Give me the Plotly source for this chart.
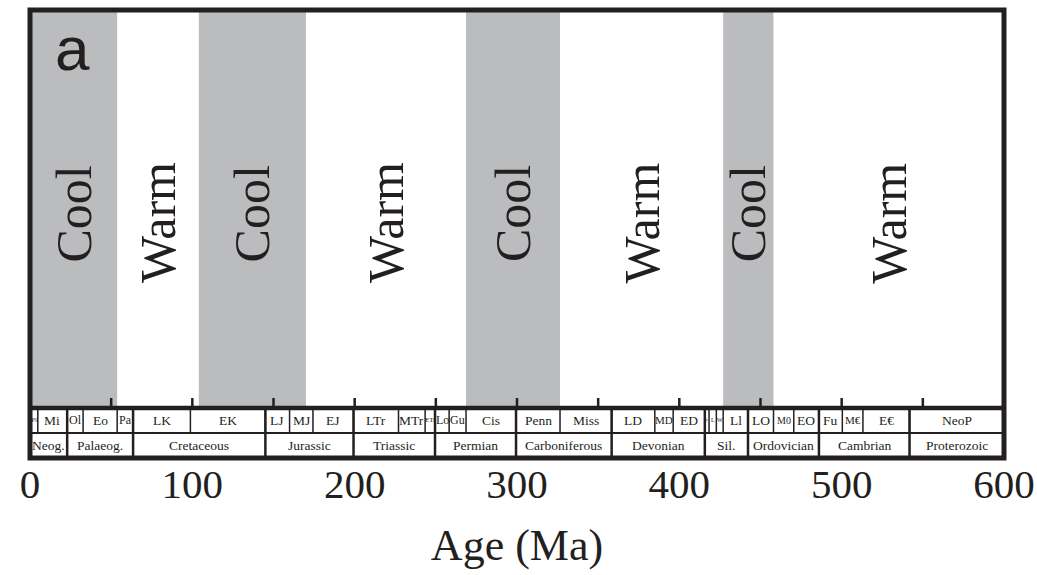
import plotly.graph_objects as go

# ---------------- data ----------------
climate_names = ["Cool", "Warm", "Cool", "Warm", "Cool", "Warm", "Cool", "Warm"]
climate_edges = [0, 53.7, 104, 170, 268.6, 326.5, 427, 458, 600]

stage_names = ["Pl", "Mi", "Ol", "Eo", "Pa", "LK", "EK", "LJ", "MJ", "EJ", "LTr", "MTr", "ETr",
               "Lo", "Gu", "Cis", "Penn", "Miss", "LD", "MD", "ED", "P", "L", "W", "Ll",
               "LO", "M0", "EO", "Fu", "M€", "E€", "NeoP"]
stage_edges = [0, 4.8, 22.9, 32.7, 53.7, 63.5, 98.8, 145, 159.9, 174.3, 199.3, 227, 243.4,
               249.5, 258.2, 268.6, 299.4, 326.5, 358.3, 384.9, 396.2, 415.7, 418.3, 422.8,
               427, 442.3, 458, 470.5, 486, 500.4, 513.1, 541.8, 600]

period_names = ["Neog.", "Palaeog.", "Cretaceous", "Jurassic", "Triassic", "Permian",
                "Carboniferous", "Devonian", "Sil.", "Ordovician", "Cambrian", "Proterozoic"]
period_edges = [0, 22.9, 63.5, 145, 199.3, 249.5, 299.4, 358.3, 415.7, 442.3, 486, 541.8, 600]

minor_ticks = [50, 100, 150, 200, 250, 300, 350, 400, 450, 500, 550]
x_tick_vals = [0, 100, 200, 300, 400, 500, 600]

# ---------------- style ----------------
BLACK = "#231f20"
GREY = "#bbbcbe"
SERIF = "Liberation Serif, DejaVu Serif, serif"
YTOP = 448          # y units ~ pixels from plot bottom
TS_TOP = 50         # top of timescale
TS_MID = 25         # divider between the two rows

fig = go.Figure()
shapes = []
annotations = []

# climate bands
for i, name in enumerate(climate_names):
    x0, x1 = climate_edges[i], climate_edges[i + 1]
    if name == "Cool":
        shapes.append(dict(type="rect", xref="x", yref="y", x0=x0, x1=x1, y0=TS_TOP, y1=YTOP,
                           fillcolor=GREY, line=dict(width=0), layer="below"))
    annotations.append(dict(x=(x0 + x1) / 2, y=244 if name == "Cool" else 235, xref="x", yref="y",
                            text=name, showarrow=False, textangle=-90,
                            font=dict(family=SERIF, size=50, color=BLACK)))

# stage row
small = {"Pl": 7, "ETr": 7, "P": 5, "L": 6, "W": 6, "M0": 10, "MD": 11, "M€": 11,
         "Lo": 12, "Gu": 12, "Ol": 12, "Pa": 12}
for i, name in enumerate(stage_names):
    x0, x1 = stage_edges[i], stage_edges[i + 1]
    annotations.append(dict(x=(x0 + x1) / 2, y=(TS_MID + TS_TOP) / 2 + 0.5, xref="x", yref="y",
                            text=name, showarrow=False,
                            font=dict(family=SERIF, size=small.get(name, 13.5), color=BLACK)))
for e in stage_edges[1:-1]:
    shapes.append(dict(type="line", xref="x", yref="y", x0=e, x1=e, y0=TS_MID, y1=TS_TOP,
                       line=dict(color=BLACK, width=1.5)))

# period row
for i, name in enumerate(period_names):
    x0, x1 = period_edges[i], period_edges[i + 1]
    annotations.append(dict(x=(x0 + x1) / 2, y=TS_MID / 2, xref="x", yref="y",
                            text=name, showarrow=False,
                            font=dict(family=SERIF, size=13.5, color=BLACK)))
for e in period_edges[1:-1]:
    shapes.append(dict(type="line", xref="x", yref="y", x0=e, x1=e, y0=0, y1=TS_TOP,
                       line=dict(color=BLACK, width=2.5)))

# horizontal rules of the timescale
shapes.append(dict(type="line", xref="x", yref="y", x0=0, x1=600, y0=TS_MID, y1=TS_MID,
                   line=dict(color=BLACK, width=2)))
shapes.append(dict(type="line", xref="x", yref="y", x0=0, x1=600, y0=TS_TOP, y1=TS_TOP,
                   line=dict(color=BLACK, width=4.5)))

# inner tick marks
for t in minor_ticks:
    shapes.append(dict(type="line", xref="x", yref="y", x0=t, x1=t, y0=TS_TOP, y1=TS_TOP + 10,
                       line=dict(color=BLACK, width=2.5)))

# frame
shapes.append(dict(type="rect", xref="paper", yref="paper", x0=0, x1=1, y0=0, y1=1,
                   line=dict(color=BLACK, width=5)))

# panel letter
annotations.append(dict(x=26, y=410, xref="x", yref="y", text="a", showarrow=False,
                        xanchor="center", yanchor="middle",
                        font=dict(family="Liberation Sans, Arial, sans-serif", size=62, color=BLACK)))

fig.add_trace(go.Scatter(x=[0, 600], y=[0, YTOP], mode="markers", marker=dict(opacity=0),
                         hoverinfo="skip", showlegend=False))

fig.update_layout(
    width=1037, height=575,
    margin=dict(l=29.5, r=33, t=10, b=117, autoexpand=False),
    paper_bgcolor="white", plot_bgcolor="white",
    shapes=shapes, annotations=annotations,
    showlegend=False,
    xaxis=dict(range=[0, 600], tickvals=x_tick_vals, ticks="", showgrid=False, zeroline=False,
               showline=False, automargin=False, ticklabelstandoff=-2,
               tickfont=dict(family=SERIF, size=41, color=BLACK),
               title=dict(text="Age (Ma)", font=dict(family=SERIF, size=44, color=BLACK), standoff=23)),
    yaxis=dict(range=[0, YTOP], visible=False, fixedrange=True),
)

# remove the browser's default 8px body margin so the figure fills the window exactly
fig.write_html("out.html",
               config={"displayModeBar": False, "staticPlot": True},
               post_script="document.body.style.margin='0px';document.body.style.overflow='hidden';")
